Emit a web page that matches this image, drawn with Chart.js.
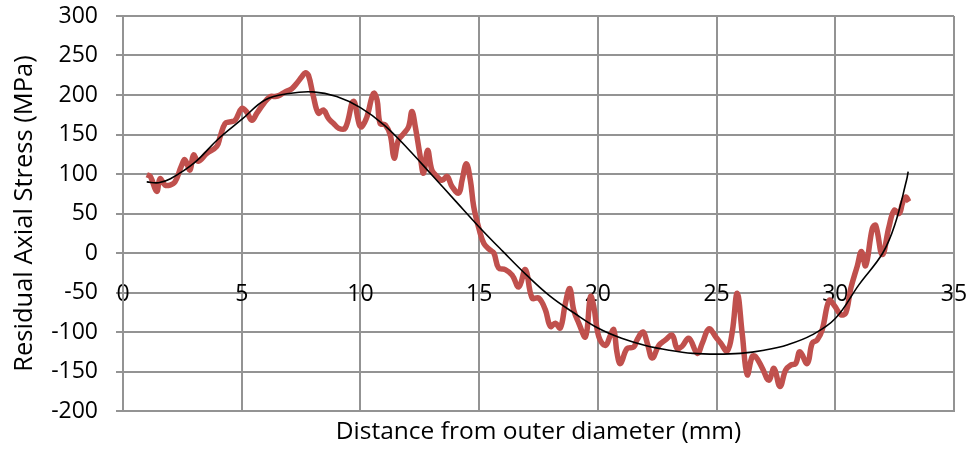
<!DOCTYPE html>
<html>
<head>
<meta charset="utf-8">
<script src="https://cdn.jsdelivr.net/npm/chart.js@4"></script>
<style>
  html, body { margin: 0; padding: 0; background: #fff; }
  #chart { display: block; }
</style>
</head>
<body>
<canvas id="chart" width="969" height="451"></canvas>
<script>
// Measured residual axial stress (red, noisy)
const distance = [
  1.0, 1.15, 1.42, 1.56, 1.77, 1.98, 2.19, 2.47, 2.61, 2.82, 2.97, 3.17, 3.53, 3.95, 4.09, 4.3, 4.51, 4.72,
  5.0, 5.2, 5.43, 5.64, 5.92, 6.2, 6.41, 6.62, 6.83, 7.11, 7.32, 7.53, 7.67, 7.81, 8.02, 8.23, 8.44, 8.66,
  8.87, 9.08, 9.36, 9.7, 9.96, 10.06, 10.27, 10.55, 10.7, 10.83, 11.05, 11.26, 11.42, 11.6, 11.82, 12.03,
  12.17, 12.31, 12.52, 12.66, 12.83, 13.01, 13.22, 13.44, 13.65, 13.86, 14.14, 14.28, 14.46, 14.63, 14.77,
  15.0, 15.2, 15.45, 15.62, 15.82, 16.1, 16.39, 16.67, 16.95, 17.23, 17.51, 17.79, 18.0, 18.21, 18.42,
  18.63, 18.82, 18.98, 19.2, 19.48, 19.69, 19.83, 20.04, 20.32, 20.53, 20.67, 20.81, 20.95, 21.23, 21.51,
  21.65, 21.9, 22.08, 22.29, 22.57, 22.85, 23.13, 23.34, 23.55, 23.83, 24.19, 24.4, 24.68, 24.96, 25.17,
  25.45, 25.66, 25.87, 26.08, 26.29, 26.5, 26.64, 26.93, 27.2, 27.42, 27.67, 27.91, 28.12, 28.33, 28.51,
  28.82, 29.03, 29.24, 29.45, 29.74, 29.95, 30.23, 30.44, 30.65, 30.93, 31.1, 31.28, 31.56, 31.7, 31.98,
  32.26, 32.48, 32.69, 32.83, 32.97, 33.1
];
const stress = [
  99, 97, 78, 94, 86, 86, 90, 111, 118, 105, 124, 116, 126, 135, 147, 164, 166, 168,
  183, 179, 168, 177, 189, 198, 198, 200, 204, 208, 215, 223, 228, 225, 198, 177, 181, 170,
  164, 158, 158, 192, 162, 160, 172, 202, 194, 164, 162, 149, 120, 143, 151, 160,
  179, 160, 122, 101, 130, 105, 97, 92, 97, 84, 76, 92, 113, 92, 59,
  30, 12, 4, 0, -19, -21, -28, -43, -21, -57, -57, -72, -93, -89, -95,
  -64, -45, -72, -89, -106, -55, -68, -106, -117, -104, -97, -127, -140, -121, -119,
  -110, -100, -114, -133, -117, -110, -104, -121, -118, -108, -127, -114, -96, -106, -114,
  -124, -100, -51, -102, -154, -131, -131, -146, -161, -146, -169, -148, -142, -140, -125,
  -140, -114, -110, -97, -60, -66, -78, -76, -45, -16, 2, -16, 31, 35, -2,
  33, 54, 50, 63, 71, 65
];

// Polynomial trend line (black)
const trendX = [1.0, 1.5, 2, 3, 4, 5, 6, 7, 8, 9, 10, 11, 12, 13, 14, 15, 16, 17, 18, 19, 20,
  21, 22, 23, 24, 25, 26, 27, 28, 29, 30, 31, 32, 32.5, 33, 33.07];
const trendY = [90, 89, 94, 114, 144, 169, 194, 202, 204, 198, 184, 162, 132, 99, 66, 33, 2, -28, -55, -76, -95,
  -108, -117, -123, -127, -128, -127, -123, -116, -104, -83, -40, 0, 35, 92, 103];

const xTicks = { min: 0, max: 35, step: 5 };
const yTicks = { min: -200, max: 300, step: 50 };

const FONT = "'Open Sans', sans-serif";
const GRID = '#939393';

const toPoints = (xs, ys) => xs.map((x, i) => ({ x: x, y: ys[i] }));

new Chart(document.getElementById('chart').getContext('2d'), {
  type: 'line',
  data: {
    datasets: [
      {
        data: toPoints(distance, stress),
        borderColor: '#C0504D',
        borderWidth: 5.5,
        pointRadius: 0,
        tension: 0.4,
        fill: false,
        order: 2
      },
      {
        data: toPoints(trendX, trendY),
        borderColor: '#000000',
        borderWidth: 1.6,
        pointRadius: 0,
        tension: 0.4,
        fill: false,
        order: 1
      }
    ]
  },
  options: {
    responsive: false,
    animation: false,
    devicePixelRatio: 1,
    layout: { padding: { top: 16, right: 15, left: 0, bottom: 0 } },
    plugins: { legend: { display: false }, tooltip: { enabled: false } },
    scales: {
      x: {
        type: 'linear',
        position: 'bottom',
        min: xTicks.min,
        max: xTicks.max,
        ticks: { display: false, stepSize: xTicks.step },
        grid: { color: GRID, lineWidth: 2, drawTicks: false },
        border: { color: GRID, width: 2 },
        title: {
          display: true,
          text: 'Distance from outer diameter (mm)',
          color: '#000',
          font: { family: FONT, size: 24.5 },
          padding: { top: 0, bottom: 4 }
        },
        afterFit: (scale) => {
          scale.height = 40;
          scale.paddingLeft = 0;
          scale.paddingRight = 0;
        }
      },
      xl: {
        type: 'linear',
        position: { y: 0 },
        min: xTicks.min,
        max: xTicks.max,
        grid: { display: false, drawTicks: false },
        border: { display: false },
        ticks: {
          stepSize: xTicks.step,
          padding: 28,
          color: '#000',
          font: { family: FONT, size: 23 },
          maxRotation: 0
        },
        afterFit: (scale) => {
          scale.paddingLeft = 0;
          scale.paddingRight = 0;
        }
      },
      y: {
        type: 'linear',
        min: yTicks.min,
        max: yTicks.max,
        ticks: {
          stepSize: yTicks.step,
          padding: 18,
          color: '#000',
          font: { family: FONT, size: 23 }
        },
        grid: { color: GRID, lineWidth: 2, tickLength: 7 },
        border: { color: GRID, width: 2 },
        title: {
          display: true,
          text: 'Residual Axial Stress (MPa)',
          color: '#000',
          font: { family: FONT, size: 25.5 },
          padding: { top: 9, bottom: 0 }
        },
        afterFit: (scale) => {
          scale.width = 123;
          scale.paddingTop = 0;
          scale.paddingBottom = 0;
        }
      }
    }
  }
});
</script>
</body>
</html>
